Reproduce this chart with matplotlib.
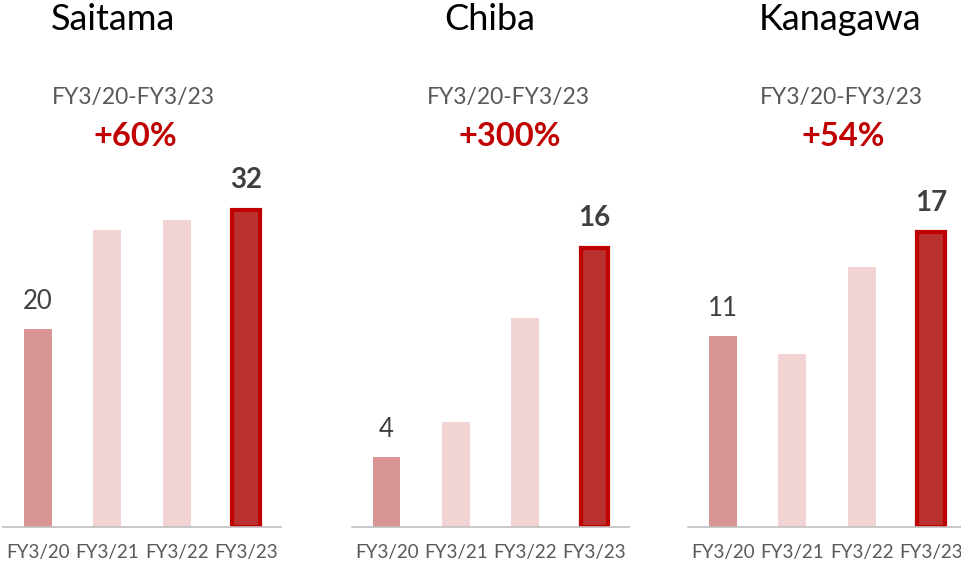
import matplotlib
matplotlib.use("Agg")
import matplotlib.pyplot as plt

plt.rcParams['font.family'] = ['Lato', 'DejaVu Sans']

years = ["FY3/20", "FY3/21", "FY3/22", "FY3/23"]
regions = ["Saitama", "Chiba", "Kanagawa"]
saitama = [20, 30, 31, 32]
chiba = [4, 6, 12, 16]
kanagawa = [11, 10, 15, 17]
growth = ["+60%", "+300%", "+54%"]
period = "FY3/20-FY3/23"

W, H = 962, 566
fig = plt.figure(figsize=(W / 100, H / 100), dpi=100)

# panel layout in pixels: left, width, y-limit top, title x, period x
panels = [
    (3, 278, 53.2, 113, 133, saitama),
    (352, 277, 30.2, 490, 508, chiba),
    (688, 278, 30.4, 840, 841, kanagawa),
]
base = 527
bar_colors = ["#D99594", "#F2D3D3", "#F2D3D3", "#B9322F"]

for (left, width, ytop, tx, px, vals), name, g in zip(panels, regions, growth):
    ax = fig.add_axes([left / W, (H - base) / H, width / W, base / H])
    x = range(len(years))
    bars = ax.bar(x, vals, width=0.4, color=bar_colors, linewidth=0)
    bars[3].set_edgecolor("#C00000")
    bars[3].set_linewidth(3)
    ax.set_xlim(-0.5, 3.5)
    ax.set_ylim(0, ytop)
    for s in ["top", "right", "left"]:
        ax.spines[s].set_visible(False)
    ax.spines["bottom"].set_color("#BFBFBF")
    ax.spines["bottom"].set_linewidth(1.2)
    ax.set_yticks([])
    ax.set_xticks(list(x))
    ax.set_xticklabels(years, fontsize=13.5, color="#595959")
    ax.tick_params(axis="x", length=0, pad=12)
    ax.annotate(str(vals[0]), (0, vals[0]), xytext=(0, 11), textcoords="offset points",
                ha="center", va="bottom", fontsize=18.5, color="#404040")
    ax.annotate(str(vals[3]), (3, vals[3]), xytext=(0, 12), textcoords="offset points",
                ha="center", va="bottom", fontsize=20, fontweight="bold", color="#404040")

    fig.text(tx / W, 1 - 30 / H, name, ha="center", va="baseline", fontsize=26, color="black")
    fig.text(px / W, 1 - 104 / H, period, ha="center", va="baseline", fontsize=16.5, color="#595959")
    fig.text((px + 2) / W, 1 - 146 / H, g, ha="center", va="baseline", fontsize=23.5,
             fontweight="bold", color="#C00000")

fig.savefig("out.png", dpi=100)
